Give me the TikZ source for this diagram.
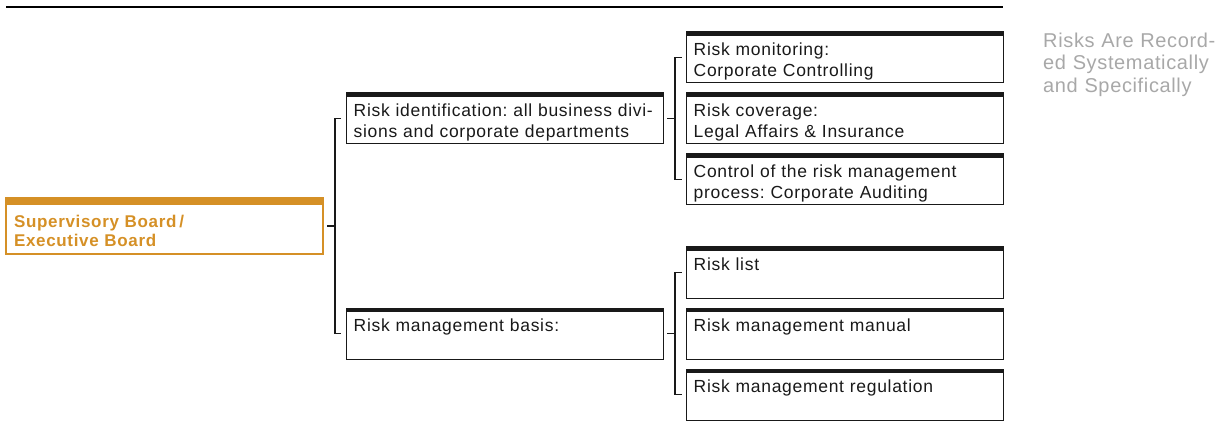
\documentclass[tikz,border=0pt]{standalone}
\usepackage{fontspec}
\newfontfamily\boxfont[LetterSpace=4]{Liberation Sans}
\newfontfamily\notefont[LetterSpace=3.2]{Liberation Sans}
\definecolor{orng}{RGB}{213,144,38}
\definecolor{notegrey}{RGB}{168,168,168}
\definecolor{ink}{RGB}{25,25,25}
\frenchspacing
\begin{document}
\begin{tikzpicture}[x=1pt,y=-1pt,
  box/.style={rectangle, draw=ink, line width=1pt, anchor=north west, outer sep=0pt,
    inner xsep=7pt, inner ysep=0pt, text width=302.5pt, text height=23.8pt, text depth=27.2pt,
    align=left, text=ink, font=\frenchspacing\boxfont\fontsize{17.5}{20.7}\selectfont,
    path picture={\fill[ink] (path picture bounding box.north west) rectangle ([yshift=-4pt]path picture bounding box.north east);}},
  headbox/.style={box, draw=orng, line width=1.3pt, inner xsep=8pt, text width=301pt,
    text height=29.5pt, text depth=26.5pt, text=orng,
    font=\frenchspacing\boxfont\bfseries\fontsize{17}{18.8}\selectfont,
    path picture={\fill[orng] (path picture bounding box.north west) rectangle ([yshift=-7.5pt]path picture bounding box.north east);}},
  link/.style={draw=ink, line width=1.1pt},
  rule/.style={draw=black, line width=1.8pt},
  note/.style={anchor=base west, inner sep=0pt, align=left, text width=185pt, text=notegrey,
    font=\frenchspacing\notefont\fontsize{20}{22.7}\selectfont}
]
\useasboundingbox (0,0) rectangle (1225,430);

% top rule
\coordinate (ruleL) at (6,6.7);
\coordinate (ruleR) at (1003.2,6.7);
\draw[rule] (ruleL) -- (ruleR);

% boxes
\node[headbox] (sb) at (6,198) {\mbox{Supervisory Board\,/}\\\mbox{Executive Board}};

\node[box] (ident) at (346.7,93) {\mbox{Risk identification: all business divi-}\\\mbox{sions and corporate departments}};
\node[box] (basis) at (346.7,308) {\mbox{Risk management basis:}};

\node[box] (mon) at (686.7,32) {\mbox{Risk monitoring:}\\\mbox{Corporate Controlling}};
\node[box] (cov) at (686.7,93) {\mbox{Risk coverage:}\\\mbox{Legal Affairs \& Insurance}};
\node[box] (aud) at (686.7,154) {\mbox{Control of the risk management}\\\mbox{process: Corporate Auditing}};

\node[box] (list) at (686.7,247) {\mbox{Risk list}};
\node[box] (manual) at (686.7,308) {\mbox{Risk management manual}};
\node[box] (regul) at (686.7,369) {\mbox{Risk management regulation}};

% note
\node[note] (note) at (1043,47.3) {\mbox{Risks Are Record-}\\\mbox{ed Systematically}\\\mbox{and Specifically}};

% connectors
\draw[link] ([xshift=4pt]sb.east) -- ([xshift=-11.7pt]sb.east -| ident.west);
\draw[link] ([xshift=-5.7pt]ident.west) -- ++(-6,0) |- ([xshift=-5.7pt]basis.west);

\draw[link] ([xshift=4pt]ident.east) -- ([xshift=-11.7pt]cov.west);
\draw[link] ([xshift=-5pt]mon.west) -- ++(-6.7,0) |- ([xshift=-5pt]aud.west);

\draw[link] ([xshift=4pt]basis.east) -- ([xshift=-11.7pt]manual.west);
\draw[link] ([xshift=-5pt]list.west) -- ++(-6.7,0) |- ([xshift=-5pt]regul.west);
\end{tikzpicture}
\end{document}
